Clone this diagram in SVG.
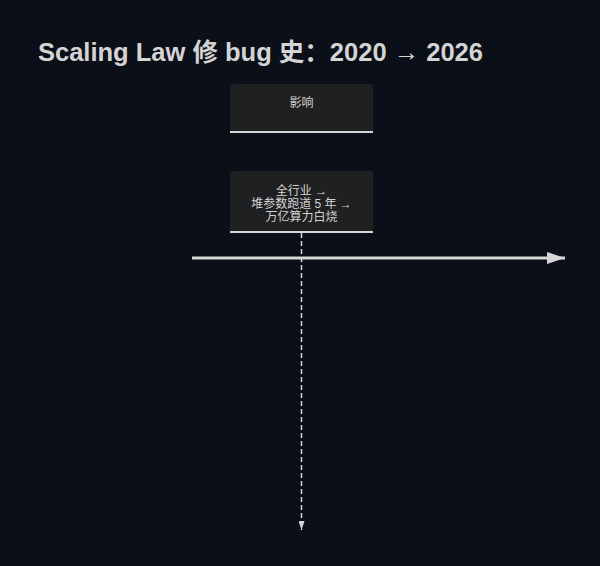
<svg xmlns="http://www.w3.org/2000/svg" width="600" height="566" viewBox="0 0 600 566">
<defs>
<style>
.box{fill:#1f2021;}
.edge{stroke:#d6d6d6;stroke-width:2;}
.lbl{font-family:"Liberation Sans","Noto Sans CJK SC",sans-serif;font-size:12px;fill:#d4d4d4;text-anchor:middle;}
.title{font-family:"Liberation Sans","Noto Sans CJK SC",sans-serif;font-size:25.5px;font-weight:bold;fill:#d4d4d4;}
</style>
<marker id="big" viewBox="0 0 18 12" refX="18" refY="6" markerWidth="18" markerHeight="12" markerUnits="userSpaceOnUse" orient="auto">
<path d="M0,0 L18,6 L0,12 Z" fill="#d6d6d6"/>
</marker>
<marker id="small" viewBox="0 0 6 9" refX="3" refY="9" markerWidth="6" markerHeight="9" markerUnits="userSpaceOnUse" orient="0">
<path d="M0,0 L6,0 L3,9 Z" fill="#d6d6d6"/>
</marker>
</defs>
<rect width="600" height="566" fill="#0b0f17"/>
<text class="title" x="38" y="61">Scaling Law 修 bug 史：2020 → 2026</text>
<g id="connectors">
<line x1="192" y1="258" x2="565" y2="258" stroke="#d6d6d6" stroke-width="3" marker-end="url(#big)"/>
<line x1="301.5" y1="233" x2="301.5" y2="530" stroke="#d6d6d6" stroke-width="1.5" stroke-dasharray="5,3" marker-end="url(#small)"/>
</g>
<g id="node-impact">
<rect class="box" x="230" y="84" width="143" height="49" rx="3"/>
<line class="edge" x1="230" y1="132" x2="373" y2="132"/>
<text class="lbl" x="301.5" y="107">影响</text>
</g>
<g id="node-industry">
<rect class="box" x="230" y="171" width="143" height="62" rx="3"/>
<line class="edge" x1="230" y1="232" x2="373" y2="232"/>
<text class="lbl" x="301.5" y="195">全行业 →</text>
<text class="lbl" x="301.5" y="208">堆参数跑道 5 年 →</text>
<text class="lbl" x="301.5" y="221">万亿算力白烧</text>
</g>
</svg>
